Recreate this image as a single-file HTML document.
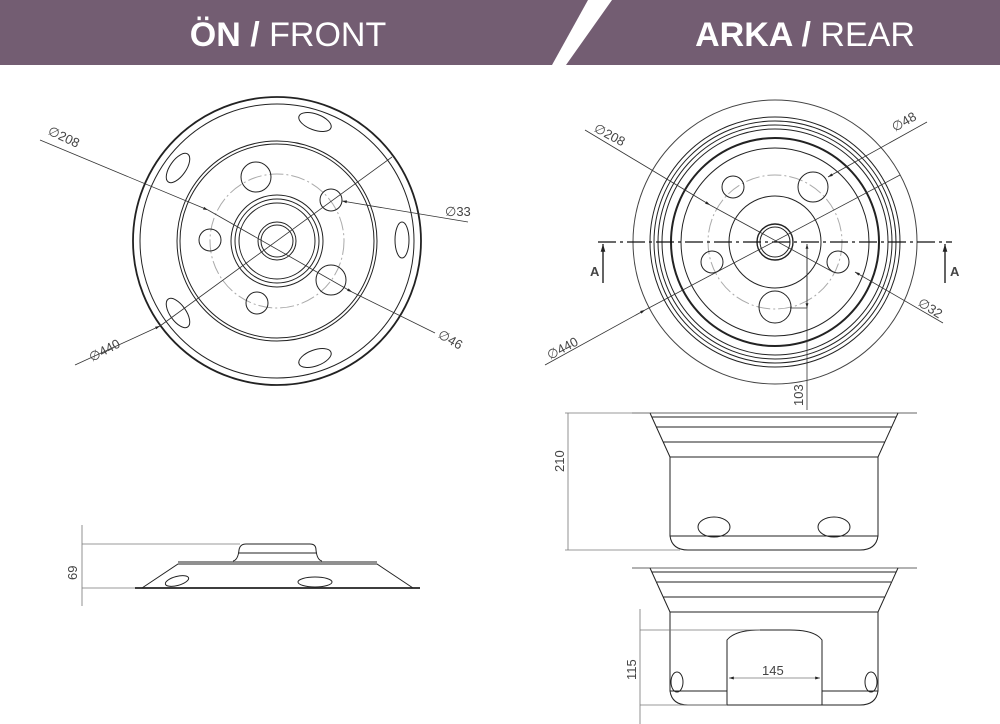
<!DOCTYPE html>
<html><head><meta charset="utf-8"><style>
html,body{margin:0;padding:0;background:#fff;}
svg{display:block;}
.h{font-family:"Liberation Sans Narrow","Liberation Sans",sans-serif;font-size:34px;fill:#fff;}
.t{font-family:"Liberation Sans","DejaVu Sans",sans-serif;font-size:13px;fill:#444;}
</style></head><body>
<svg width="1000" height="724" viewBox="0 0 1000 724" xmlns="http://www.w3.org/2000/svg">
<defs>
<marker id="ar" viewBox="0 0 10 10" refX="10" refY="5" markerWidth="8" markerHeight="6" orient="auto-start-reverse"><path d="M0,2 L10,5 L0,8z" fill="#222"/></marker>
</defs>
<polygon points="0,0 588,0 552,65 0,65" fill="#735d72"/>
<polygon points="612,0 1000,0 1000,65 566,65" fill="#735d72"/>
<text x="288" y="46" text-anchor="middle" class="h"><tspan font-weight="bold">ÖN /</tspan> FRONT</text>
<text x="805" y="46" text-anchor="middle" class="h"><tspan font-weight="bold">ARKA /</tspan> REAR</text>

<g fill="none" stroke="#222" stroke-width="1">
<circle cx="277" cy="241" r="144" stroke-width="1.8"/>
<circle cx="277" cy="241" r="137"/>
<circle cx="277" cy="241" r="100"/>
<circle cx="277" cy="241" r="97"/>
<circle cx="277" cy="241" r="67" stroke="#aaa" stroke-dasharray="14,3,2,3"/>
<circle cx="277" cy="241" r="46"/><circle cx="277" cy="241" r="42"/><circle cx="277" cy="241" r="38"/>
<circle cx="277" cy="241" r="19"/><circle cx="277" cy="241" r="16"/>
<circle cx="256" cy="177" r="15"/><circle cx="331" cy="200" r="11"/><circle cx="210" cy="240" r="11"/>
<circle cx="331" cy="280" r="15"/><circle cx="257" cy="303" r="11"/>
<ellipse cx="315" cy="122" rx="17" ry="8" transform="rotate(20 315 122)"/>
<ellipse cx="178" cy="168" rx="17" ry="8" transform="rotate(-55 178 168)"/>
<ellipse cx="402" cy="240" rx="7" ry="18"/>
<ellipse cx="178" cy="313" rx="17" ry="8" transform="rotate(55 178 313)"/>
<ellipse cx="315" cy="358" rx="17" ry="8" transform="rotate(-20 315 358)"/>
</g>
<g stroke="#333" stroke-width="0.8" fill="none">
<line x1="40" y1="140" x2="208" y2="210" marker-end="url(#ar)"/>
<line x1="208" y1="210" x2="352" y2="292" marker-end="url(#ar)"/>
<line x1="352" y1="292" x2="435" y2="333"/>
<line x1="468" y1="222" x2="342" y2="201" marker-end="url(#ar)"/>
<line x1="75" y1="365" x2="160" y2="326" marker-end="url(#ar)"/>
<line x1="160" y1="326" x2="392" y2="157"/>
</g>
<text class="t" transform="translate(47,134) rotate(25)">∅208</text>
<text class="t" x="445" y="216">∅33</text>
<text class="t" transform="translate(437,337) rotate(30)">∅46</text>
<text class="t" transform="translate(92,362) rotate(-28)">∅440</text>

<g fill="none" stroke="#222" stroke-width="1">
<line x1="135" y1="588" x2="420" y2="588" stroke-width="1.8"/>
<polyline points="142,588 178,564 377,564 413,588"/>
<line x1="178" y1="562" x2="377" y2="562"/>
<path d="M233,561 Q238,560 239,550 Q240,544 246,544 L310,544 Q316,544 316,550 Q317,560 322,561"/>
<line x1="238" y1="553" x2="317" y2="553"/>
<ellipse cx="177" cy="581" rx="12" ry="4.5" transform="rotate(-15 177 581)"/>
<ellipse cx="315" cy="582" rx="17" ry="5"/>
</g>
<g stroke="#777" stroke-width="0.8">
<line x1="82" y1="525" x2="82" y2="606"/>
<line x1="82" y1="544" x2="240" y2="544"/>
<line x1="82" y1="588" x2="135" y2="588"/>
</g>
<text class="t" transform="translate(77,580) rotate(-90)">69</text>

<g fill="none" stroke="#222" stroke-width="1">
<circle cx="775" cy="242" r="142" stroke="#444"/>
<circle cx="775" cy="242" r="125"/><circle cx="775" cy="242" r="121"/>
<circle cx="775" cy="242" r="117"/><circle cx="775" cy="242" r="113"/>
<circle cx="775" cy="242" r="104" stroke-width="2"/>
<circle cx="775" cy="242" r="94"/>
<circle cx="775" cy="242" r="67" stroke="#aaa" stroke-dasharray="14,3,2,3"/>
<circle cx="775" cy="242" r="46"/>
<circle cx="775" cy="242" r="18" stroke-width="1.4"/><circle cx="775" cy="242" r="15"/>
<circle cx="733" cy="187" r="11"/><circle cx="813" cy="187" r="15"/>
<circle cx="712" cy="262" r="11"/><circle cx="838" cy="262" r="11"/>
<circle cx="775" cy="307" r="16"/>
</g>
<line x1="598" y1="242" x2="952" y2="242" stroke="#111" stroke-width="1.3" stroke-dasharray="18,4,3,4"/>
<g stroke="#111" stroke-width="1.3">
<line x1="603" y1="283" x2="603" y2="244" marker-end="url(#ar)"/>
<line x1="945" y1="283" x2="945" y2="244" marker-end="url(#ar)"/>
</g>
<text class="t" x="590" y="276" font-weight="bold" fill="#111">A</text>
<text class="t" x="950" y="276" font-weight="bold" fill="#111">A</text>
<g stroke="#333" stroke-width="0.8" fill="none">
<line x1="585" y1="130" x2="710" y2="205" marker-end="url(#ar)"/>
<line x1="710" y1="205" x2="833" y2="272"/>
<line x1="943" y1="323" x2="855" y2="272" marker-end="url(#ar)"/>
<line x1="927" y1="122" x2="828" y2="177" marker-end="url(#ar)"/>
<line x1="545" y1="365" x2="645" y2="310" marker-end="url(#ar)"/>
<line x1="645" y1="310" x2="900" y2="175"/>
<line x1="807" y1="410" x2="807" y2="244" marker-end="url(#ar)"/>
<line x1="807" y1="244" x2="807" y2="308" marker-end="url(#ar)"/>
<line x1="790" y1="308" x2="807" y2="308"/>
</g>
<text class="t" transform="translate(593,131) rotate(28)">∅208</text>
<text class="t" transform="translate(895,132) rotate(-30)">∅48</text>
<text class="t" transform="translate(917,305) rotate(32)">∅32</text>
<text class="t" transform="translate(550,360) rotate(-28)">∅440</text>
<text class="t" transform="translate(803,406) rotate(-90)">103</text>

<g fill="none" stroke="#222" stroke-width="1">
<line x1="632" y1="413" x2="917" y2="413" stroke="#666"/>
<polyline points="650,413 670,457"/><polyline points="898,413 878,457"/>
<line x1="652" y1="417" x2="896" y2="417"/>
<line x1="656" y1="427" x2="892" y2="427"/>
<line x1="663" y1="442" x2="885" y2="442"/>
<line x1="670" y1="457" x2="878" y2="457"/>
<path d="M670,457 L670,536 Q672,550 688,550 L860,550 Q876,550 878,536 L878,457"/>
<line x1="670" y1="536" x2="878" y2="536"/>
<ellipse cx="714" cy="527" rx="16" ry="10"/>
<ellipse cx="834" cy="527" rx="16" ry="10"/>
</g>
<g stroke="#777" stroke-width="0.8">
<line x1="568" y1="413" x2="568" y2="550"/>
<line x1="565" y1="413" x2="650" y2="413"/>
<line x1="565" y1="550" x2="680" y2="550"/>
</g>
<text class="t" transform="translate(564,472) rotate(-90)">210</text>

<g fill="none" stroke="#222" stroke-width="1">
<line x1="632" y1="568" x2="917" y2="568" stroke="#666"/>
<polyline points="650,568 670,612"/><polyline points="898,568 878,612"/>
<line x1="652" y1="572" x2="896" y2="572"/>
<line x1="657" y1="582" x2="891" y2="582"/>
<line x1="663" y1="597" x2="885" y2="597"/>
<line x1="670" y1="612" x2="878" y2="612"/>
<path d="M670,612 L670,691 Q672,705 688,705 L860,705 Q876,705 878,691 L878,612"/>
<line x1="670" y1="691" x2="727" y2="691"/><line x1="822" y1="691" x2="878" y2="691"/>
<path d="M727,705 L727,640 Q735,630 760,630 L790,630 Q815,630 822,640 L822,705"/>
<ellipse cx="677" cy="682" rx="6" ry="10"/>
<ellipse cx="871" cy="682" rx="6" ry="10"/>
</g>
<g stroke="#777" stroke-width="0.8">
<line x1="640" y1="609" x2="640" y2="724"/>
<line x1="640" y1="630" x2="760" y2="630"/>
<line x1="640" y1="705" x2="727" y2="705"/>
<line x1="729" y1="678" x2="820" y2="678" marker-end="url(#ar)" marker-start="url(#ar)"/>
</g>
<text class="t" x="762" y="675">145</text>
<text class="t" transform="translate(636,680) rotate(-90)">115</text>
</svg>
</body></html>
